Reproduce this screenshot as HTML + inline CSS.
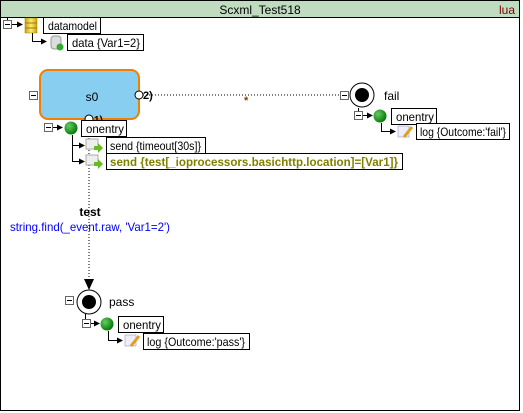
<!DOCTYPE html>
<html><head><style>
html,body{margin:0;padding:0;background:#fff;}
svg{display:block;font-family:"Liberation Sans",Arial,sans-serif;}
</style></head><body>
<svg width="523" height="413" viewBox="0 0 523 413" xmlns="http://www.w3.org/2000/svg">
<defs>
<marker id="ar" markerWidth="6" markerHeight="6" refX="5" refY="3" orient="auto" markerUnits="userSpaceOnUse"><path d="M0,0 L6,3 L0,6 Z" fill="#000"/></marker>
<radialGradient id="gr" cx="0.35" cy="0.35" r="0.7"><stop offset="0" stop-color="#6c6"/><stop offset="1" stop-color="#070"/></radialGradient>
<linearGradient id="db" x1="0" x2="1"><stop offset="0" stop-color="#c9a400"/><stop offset="0.5" stop-color="#ffe680"/><stop offset="1" stop-color="#c9a400"/></linearGradient>
</defs>
<rect x="0.5" y="0.5" width="519" height="410" fill="#fff" stroke="#000"/>
<rect x="1" y="1" width="518" height="16" fill="#c0dcc0"/>
<line x1="1" y1="17.5" x2="519" y2="17.5" stroke="#000"/>
<text x="260" y="14" font-size="12" text-anchor="middle" fill="#000">Scxml_Test518</text>
<text x="515" y="14" font-size="12" text-anchor="end" fill="#800000">lua</text>

<g font-size="12" fill="#000">
<line x1="7.5" y1="18" x2="7.5" y2="21" stroke="#000"/>
<rect x="3.5" y="20.5" width="8" height="8" fill="#fff" stroke="#666"/><line x1="5" y1="24.5" x2="10" y2="24.5" stroke="#000"/>
<line x1="12" y1="24.5" x2="22" y2="24.5" stroke="#000" marker-end="url(#ar)"/>
<rect x="25" y="18" width="12" height="15" fill="url(#db)" stroke="#a08000" stroke-width="0.5"/>
<line x1="25" y1="23" x2="37" y2="23" stroke="#a08000"/><line x1="25" y1="28" x2="37" y2="28" stroke="#a08000"/>
<rect x="43.5" y="17.5" width="57" height="16" fill="#fff" stroke="#000"/>
<text x="48" y="30" textLength="49" lengthAdjust="spacingAndGlyphs">datamodel</text>
<path d="M32.5,33 V41.5 H46" fill="none" stroke="#000" marker-end="url(#ar)"/>
<rect x="51" y="36" width="10" height="13" rx="3" fill="#ddd" stroke="#999"/>
<circle cx="60" cy="47" r="3.5" fill="#3a3"/>
<rect x="67.5" y="34.5" width="76" height="16" fill="#fff" stroke="#000"/>
<text x="72" y="47" textLength="68" lengthAdjust="spacingAndGlyphs">data {Var1=2}</text>

<rect x="40" y="70" width="99" height="49" rx="8" fill="#87cef0" stroke="#f08000" stroke-width="2"/>
<text x="92" y="101" text-anchor="middle">s0</text>
<rect x="29.5" y="91.5" width="8" height="8" fill="#fff" stroke="#666"/><line x1="31" y1="95.5" x2="36" y2="95.5" stroke="#000"/>
<line x1="143" y1="95" x2="340" y2="95" stroke="#000" stroke-dasharray="1,2"/>
<circle cx="139" cy="95" r="4" fill="#fff" stroke="#000"/>
<text x="143" y="99" font-weight="bold" font-size="11">2)</text>
<text x="244" y="104" font-size="11" fill="#804000" font-weight="bold">*</text>

<rect x="340.5" y="91.5" width="8" height="8" fill="#fff" stroke="#666"/><line x1="342" y1="95.5" x2="347" y2="95.5" stroke="#000"/>
<circle cx="362" cy="95" r="12" fill="#fff" stroke="#000"/>
<circle cx="362" cy="95" r="7" fill="#000"/>
<text x="384" y="100">fail</text>
<line x1="358.5" y1="108" x2="358.5" y2="113" stroke="#000"/>
<rect x="354.5" y="111.5" width="8" height="8" fill="#fff" stroke="#666"/><line x1="356" y1="115.5" x2="361" y2="115.5" stroke="#000"/>
<line x1="363" y1="115.5" x2="372" y2="115.5" stroke="#000" marker-end="url(#ar)"/>
<circle cx="380" cy="116" r="6.5" fill="url(#gr)"/>
<rect x="391.5" y="108.5" width="45" height="16" fill="#fff" stroke="#000"/>
<text x="396" y="121" textLength="38" lengthAdjust="spacingAndGlyphs">onentry</text>
<path d="M381.5,123 V131.5 H395" fill="none" stroke="#000" marker-end="url(#ar)"/>
<rect x="398" y="126" width="11" height="11" fill="#eef" stroke="#88a" stroke-width="0.5"/><path d="M404,137 L412,127" stroke="#e0a020" stroke-width="3"/>
<rect x="416.5" y="123.5" width="93" height="16" fill="#fff" stroke="#000"/>
<text x="420" y="136" textLength="86" lengthAdjust="spacingAndGlyphs">log {Outcome:'fail'}</text>

<line x1="89" y1="120" x2="89" y2="282" stroke="#000" stroke-dasharray="1,2"/>
<circle cx="89" cy="119" r="4" fill="#fff" stroke="#000"/>
<text x="94" y="123" font-weight="bold" font-size="10">1)</text>
<rect x="44.5" y="123.5" width="8" height="8" fill="#fff" stroke="#666"/><line x1="46" y1="127.5" x2="51" y2="127.5" stroke="#000"/>
<line x1="53" y1="127.5" x2="62" y2="127.5" stroke="#000" marker-end="url(#ar)"/>
<circle cx="71" cy="128" r="6.5" fill="url(#gr)"/>
<rect x="81.5" y="120.5" width="45" height="16" fill="#fff" stroke="#000"/>
<text x="86" y="133" textLength="38" lengthAdjust="spacingAndGlyphs">onentry</text>
<path d="M72.5,135 V161.5 H84" fill="none" stroke="#000" marker-end="url(#ar)"/>
<line x1="72" y1="145.5" x2="84" y2="145.5" stroke="#000" marker-end="url(#ar)"/>
<rect x="86" y="139" width="12" height="10" fill="#eee" stroke="#aaa"/><path d="M94,146 h4 v-3 l5,5 l-5,5 v-3 h-4z" fill="#6b2"/>
<rect x="86" y="155" width="12" height="10" fill="#eee" stroke="#aaa"/><path d="M94,162 h4 v-3 l5,5 l-5,5 v-3 h-4z" fill="#6b2"/>
<rect x="106.5" y="137.5" width="99" height="16" fill="#fff" stroke="#000"/>
<text x="110" y="150" textLength="91" lengthAdjust="spacingAndGlyphs">send {timeout[30s]}</text>
<rect x="106.5" y="153.5" width="296" height="16" fill="#fff" stroke="#000"/>
<text x="110" y="166" font-weight="bold" fill="#808000" textLength="288" lengthAdjust="spacingAndGlyphs">send {test[_ioprocessors.basichttp.location]=[Var1]}</text>

<text x="90" y="216" text-anchor="middle" font-weight="bold">test</text>
<text x="10" y="231" fill="#0000ff" textLength="160" lengthAdjust="spacingAndGlyphs">string.find(_event.raw, 'Var1=2')</text>
<path d="M84,279 L94,279 L89,290 Z" fill="#000"/>

<rect x="65.5" y="296.5" width="8" height="8" fill="#fff" stroke="#666"/><line x1="67" y1="300.5" x2="72" y2="300.5" stroke="#000"/>
<circle cx="89" cy="302" r="12" fill="#fff" stroke="#000"/>
<circle cx="89" cy="302" r="7" fill="#000"/>
<text x="109" y="306">pass</text>
<line x1="85.5" y1="313" x2="85.5" y2="319" stroke="#000"/>
<rect x="82.5" y="319.5" width="8" height="8" fill="#fff" stroke="#666"/><line x1="84" y1="323.5" x2="89" y2="323.5" stroke="#000"/>
<line x1="91" y1="323.5" x2="99" y2="323.5" stroke="#000" marker-end="url(#ar)"/>
<circle cx="107" cy="324" r="6.5" fill="url(#gr)"/>
<rect x="118.5" y="316.5" width="45" height="16" fill="#fff" stroke="#000"/>
<text x="123" y="329" textLength="38" lengthAdjust="spacingAndGlyphs">onentry</text>
<path d="M108.5,331 V340.5 H122" fill="none" stroke="#000" marker-end="url(#ar)"/>
<rect x="125" y="335" width="11" height="11" fill="#eef" stroke="#88a" stroke-width="0.5"/><path d="M131,346 L139,336" stroke="#e0a020" stroke-width="3"/>
<rect x="143.5" y="333.5" width="106" height="16" fill="#fff" stroke="#000"/>
<text x="147" y="346" textLength="98" lengthAdjust="spacingAndGlyphs">log {Outcome:'pass'}</text>
</g>
</svg>
</body></html>
